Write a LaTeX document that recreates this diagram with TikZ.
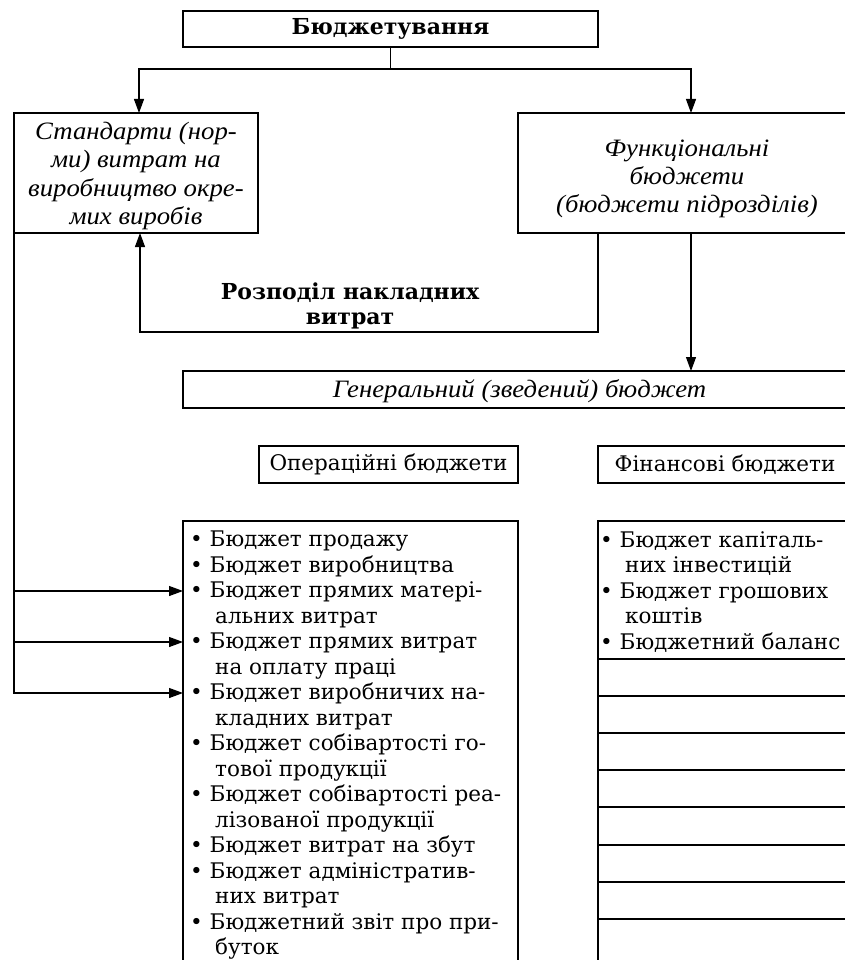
\documentclass[tikz,border=0pt]{standalone}
\usepackage{fontspec}
\setmainfont{DejaVu Serif}
\newfontfamily\itfam{Liberation Serif}[FakeStretch=1.07]
\usetikzlibrary{arrows.meta,calc}
\newcommand\lbul{\textbullet\ }
\newcommand\lcont{\hspace*{25pt}}
\begin{document}
\begin{tikzpicture}[x=1pt,y=-1pt,
  box/.style={draw, line width=1.1pt, rectangle, inner sep=0pt, outer sep=0pt},
  arr/.style={line width=1.1pt, -{Triangle[length=14pt,width=10pt]}},
  ln/.style={line width=1.1pt},
  itx/.style={font=\fontsize{25}{28.3}\selectfont\itfam\itshape, align=center},
  bfx/.style={font=\fontsize{22}{25}\selectfont\bfseries, align=center},
  rmx/.style={font=\fontsize{21.5}{25.5}\selectfont},
]
\useasboundingbox (0,0) rectangle (845,960);
\clip (0,0) rectangle (845,960);

\node[box, bfx, minimum width=415pt, minimum height=36pt] (top) at (390.5,29) {Бюджетування};
\node[box, minimum width=244pt, minimum height=120pt] (left) at (136,173) {};
\node[itx] (lefttext) at ([yshift=-3pt]left.center) {Стандарти (нор-\\ми) витрат на\\виробництво окре-\\мих виробів};
\node[box, minimum width=338pt, minimum height=120pt] (right) at (687,173) {};
\node[itx] (righttext) at ([yshift=-6pt]right.center) {Функціональні\\бюджети\\(бюджети підрозділів)};
\node[box, minimum width=673pt, minimum height=37pt] (gen) at (519.5,389.5) {};
\node[itx] (gentext) at ([yshift=-2pt]gen.center) {Генеральний (зведений) бюджет};
\node[box, rmx, minimum width=259pt, minimum height=37pt] (ophead) at (388.5,464.5) {Операційні бюджети};
\node[box, rmx, minimum width=254pt, minimum height=37pt] (finhead) at (725,464.5) {Фінансові бюджети};
\node[box, minimum width=335pt, minimum height=479pt] (oplist) at (350.5,760.5) {};
\node[box, minimum width=300pt, minimum height=479pt] (finlist) at (748,760.5) {};

\node[bfx] (lbl) at (350,305.5) {Розподіл накладних\\витрат};

\node[rmx, align=left, anchor=north west, inner sep=0pt] (optext) at (190,531) {%
\lbul Бюджет продажу\\
\lbul Бюджет виробництва\\
\lbul Бюджет прямих матері-\\
\lcont альних витрат\\
\lbul Бюджет прямих витрат\\
\lcont на оплату праці\\
\lbul Бюджет виробничих на-\\
\lcont кладних витрат\\
\lbul Бюджет собівартості го-\\
\lcont тової продукції\\
\lbul Бюджет собівартості реа-\\
\lcont лізованої продукції\\
\lbul Бюджет витрат на збут\\
\lbul Бюджет адміністратив-\\
\lcont них витрат\\
\lbul Бюджетний звіт про при-\\
\lcont буток};

\node[rmx, align=left, anchor=north west, inner sep=0pt] (fintext) at (600,531) {%
\lbul Бюджет капіталь-\\
\lcont них інвестицій\\
\lbul Бюджет грошових\\
\lcont коштів\\
\lbul Бюджетний баланс};

\foreach \y in {659,696,733,770,807,845,882,919}
  \draw[ln] (598,\y) -- (860,\y);

% connectors
\draw[ln] (top.south) -- ++(0,22) coordinate (tj);
\draw[arr] (tj) -| ([xshift=3pt]left.north);
\draw[arr] (tj) -| ([xshift=4pt]right.north);
\draw[arr] ([xshift=-89pt]right.south) -- ++(0,99) -| ([xshift=4pt]left.south);
\draw[arr] ([xshift=4pt]right.south) -- ([xshift=4pt]right.south |- gen.north);

\coordinate (a1) at (183,591);
\coordinate (a2) at (183,642);
\coordinate (a3) at (183,693);
\draw[arr] (left.south west) |- (a3);
\draw[arr] (a1 -| left.south west) -- (a1);
\draw[arr] (a2 -| left.south west) -- (a2);
\end{tikzpicture}
\end{document}
